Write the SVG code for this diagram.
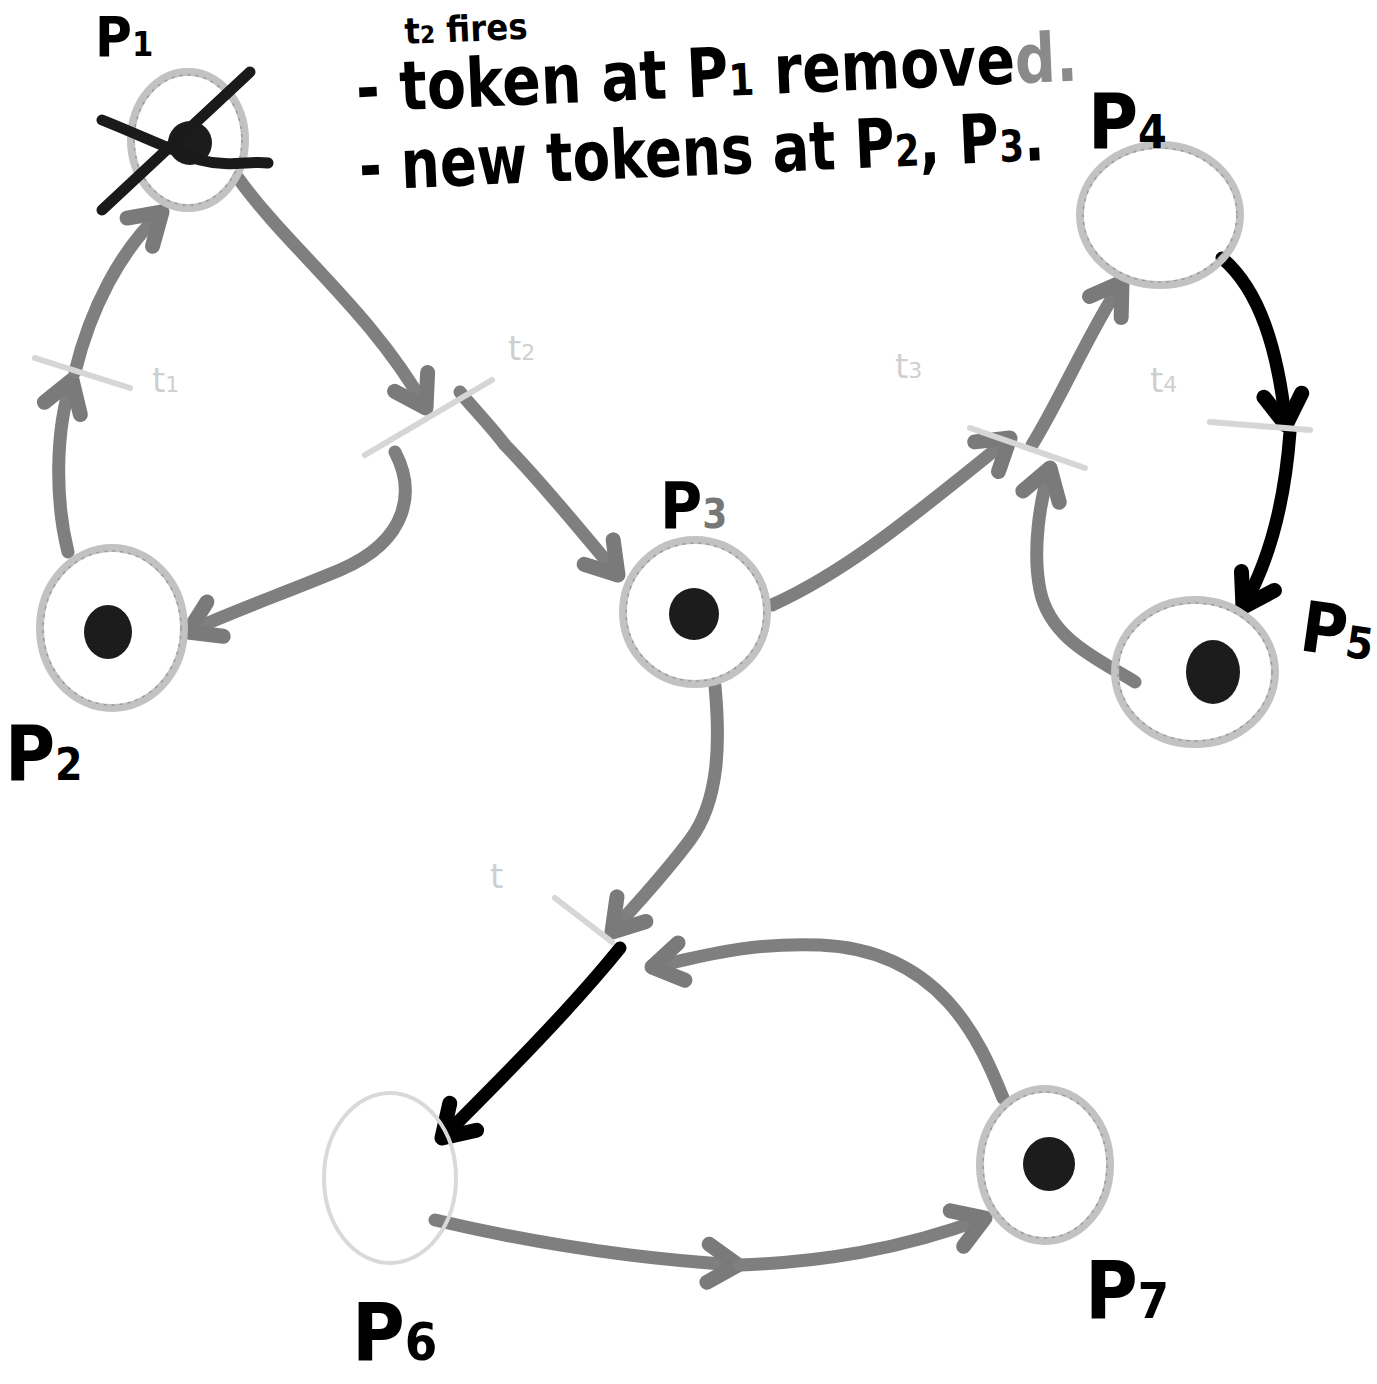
<svg xmlns="http://www.w3.org/2000/svg" width="1377" height="1384" viewBox="0 0 1377 1384">
<style>
.hand{font-family:"DejaVu Sans Condensed","DejaVu Sans","Liberation Sans",sans-serif;font-weight:bold;fill:#000}
.place{fill:none;stroke:#c2c2c2;stroke-width:8}
.place2{fill:none;stroke:#9a9a9a;stroke-width:1.5;stroke-dasharray:3 5}
.token{fill:#1c1c1c}
.arc{fill:none;stroke:#7f7f7f;stroke-width:13;stroke-linecap:round;stroke-linejoin:round}
.arcb{fill:none;stroke:#000;stroke-width:13;stroke-linecap:round;stroke-linejoin:round}
.bar{fill:none;stroke:#d6d6d6;stroke-width:6;stroke-linecap:round}
.tl{font-family:"DejaVu Sans",sans-serif;font-size:34px;fill:#cfcfcf}
</style>
<defs>
<marker id="ag" viewBox="-40 -30 50 60" refX="0" refY="0" markerWidth="50" markerHeight="60" markerUnits="userSpaceOnUse" orient="auto" overflow="visible">
<path d="M-30,-19 L0,0 L-30,19" fill="none" stroke="#7a7a7a" stroke-width="15" stroke-linecap="round" stroke-linejoin="round"/>
</marker>
<marker id="ab" viewBox="-40 -30 50 60" refX="0" refY="0" markerWidth="50" markerHeight="60" markerUnits="userSpaceOnUse" orient="auto" overflow="visible">
<path d="M-30,-19 L0,0 L-30,19" fill="none" stroke="#000" stroke-width="15" stroke-linecap="round" stroke-linejoin="round"/>
</marker>
</defs>
<rect width="1377" height="1384" fill="#fff"/>

<g id="notes">
<text class="hand" x="405" y="44" font-size="36" transform="rotate(-2.5 405 44)">t<tspan font-size="24">2</tspan> fires</text>
<text class="hand" x="357" y="112" font-size="68" transform="rotate(-2.5 357 112)" textLength="722" lengthAdjust="spacingAndGlyphs">- token at P<tspan font-size="44">1</tspan> remove<tspan fill="#8a8a8a">d.</tspan></text>
<text class="hand" x="360" y="190" font-size="68" transform="rotate(-2.5 360 190)" textLength="686" lengthAdjust="spacingAndGlyphs">- new tokens at P<tspan font-size="44">2</tspan>, P<tspan font-size="44">3</tspan>.</text>
</g>

<g id="connectors">
<path class="arc" d="M68,552 C55,500 55,430 72,380" marker-end="url(#ag)"/>
<path class="arc" d="M75,372 C90,310 120,250 162,212" marker-end="url(#ag)"/>
<path class="arc" d="M238,178 C290,250 370,310 426,408" marker-end="url(#ag)"/>
<path class="arc" d="M395,452 C415,490 410,540 340,570 C280,595 230,612 188,632" marker-end="url(#ag)"/>
<path class="arc" d="M460,392 C470,405 490,425 505,445 C540,480 580,530 618,575" marker-end="url(#ag)"/>
<path class="arc" d="M772,605 C850,570 920,510 1010,438" marker-end="url(#ag)"/>
<path class="arc" d="M1032,445 C1060,400 1090,330 1122,282" marker-end="url(#ag)"/>
<path class="arcb" d="M1222,258 C1260,290 1278,350 1286,425" marker-end="url(#ab)"/>
<path class="arcb" d="M1290,432 C1285,500 1270,560 1243,607" marker-end="url(#ab)"/>
<path class="arc" d="M1135,682 C1100,660 1050,640 1040,590 C1032,550 1040,500 1050,468" marker-end="url(#ag)"/>
<path class="arc" d="M715,686 C720,740 720,800 690,840 C660,880 635,905 612,932" marker-end="url(#ag)"/>
<path class="arcb" d="M620,948 C570,1010 500,1080 442,1138" marker-end="url(#ab)"/>
<path class="arc" d="M435,1220 C520,1240 620,1258 738,1265" marker-end="url(#ag)"/>
<path class="arc" d="M740,1265 C820,1262 900,1250 985,1218" marker-end="url(#ag)"/>
<path class="arc" d="M1003,1098 C980,1040 940,950 820,945 C740,942 690,960 652,967" marker-end="url(#ag)"/>
</g>

<g id="t1"><path class="bar" d="M35,358 L130,388"/><text class="tl" x="152" y="392">t<tspan font-size="22">1</tspan></text></g>
<g id="t2"><path class="bar" d="M365,455 L492,380"/><text class="tl" x="508" y="360">t<tspan font-size="22">2</tspan></text></g>
<g id="t3"><path class="bar" d="M970,428 L1085,468"/><text class="tl" x="895" y="378">t<tspan font-size="22">3</tspan></text></g>
<g id="t4"><path class="bar" d="M1210,422 L1310,430"/><text class="tl" x="1150" y="392">t<tspan font-size="22">4</tspan></text></g>
<g id="t5"><path class="bar" d="M555,898 L612,942"/><text class="tl" x="490" y="888" font-size="20">t</text></g>

<g id="P1">
<ellipse class="place" cx="188" cy="140" rx="57" ry="68"/>
<ellipse class="place2" cx="188" cy="140" rx="54" ry="65"/>
<circle class="token" cx="190" cy="143" r="22"/>
<path d="M102,210 L250,72" stroke="#1a1a1a" stroke-width="11" stroke-linecap="round" fill="none"/>
<path d="M102,120 C140,135 170,150 200,160 C230,168 250,160 268,163" stroke="#1a1a1a" stroke-width="11" stroke-linecap="round" fill="none"/>
<text class="hand" x="95" y="56" font-size="56">P<tspan font-size="34">1</tspan></text>
</g>

<g id="P2">
<ellipse class="place" cx="112" cy="628" rx="72" ry="80"/>
<ellipse class="place2" cx="112" cy="628" rx="69" ry="77"/>
<ellipse class="token" cx="108" cy="632" rx="24" ry="27"/>
<text class="hand" x="5" y="780" font-size="76">P<tspan font-size="44">2</tspan></text>
</g>

<g id="P3">
<ellipse class="place" cx="695" cy="612" rx="72" ry="72"/>
<ellipse class="place2" cx="695" cy="612" rx="69" ry="69"/>
<ellipse class="token" cx="694" cy="614" rx="25" ry="26"/>
<text class="hand" x="660" y="528" font-size="64">P<tspan font-size="40" fill="#777">3</tspan></text>
</g>

<g id="P4">
<ellipse class="place" cx="1160" cy="215" rx="80" ry="70"/>
<ellipse class="place2" cx="1160" cy="215" rx="77" ry="67"/>
<text class="hand" x="1088" y="148" font-size="76">P<tspan font-size="46">4</tspan></text>
</g>

<g id="P5">
<ellipse class="place" cx="1195" cy="672" rx="80" ry="72"/>
<ellipse class="place2" cx="1195" cy="672" rx="77" ry="69"/>
<ellipse class="token" cx="1213" cy="672" rx="27" ry="32"/>
<text class="hand" x="1298" y="650" font-size="70" transform="rotate(8 1298 650)">P<tspan font-size="44">5</tspan></text>
</g>

<g id="P6">
<ellipse cx="390" cy="1178" rx="66" ry="85" fill="none" stroke="#d9d9d9" stroke-width="4"/>
<text class="hand" x="352" y="1360" font-size="80">P<tspan font-size="52">6</tspan></text>
</g>

<g id="P7">
<ellipse class="place" cx="1045" cy="1165" rx="65" ry="76"/>
<ellipse class="place2" cx="1045" cy="1165" rx="62" ry="73"/>
<ellipse class="token" cx="1049" cy="1164" rx="26" ry="27"/>
<text class="hand" x="1085" y="1318" font-size="80">P<tspan font-size="50">7</tspan></text>
</g>
</svg>
